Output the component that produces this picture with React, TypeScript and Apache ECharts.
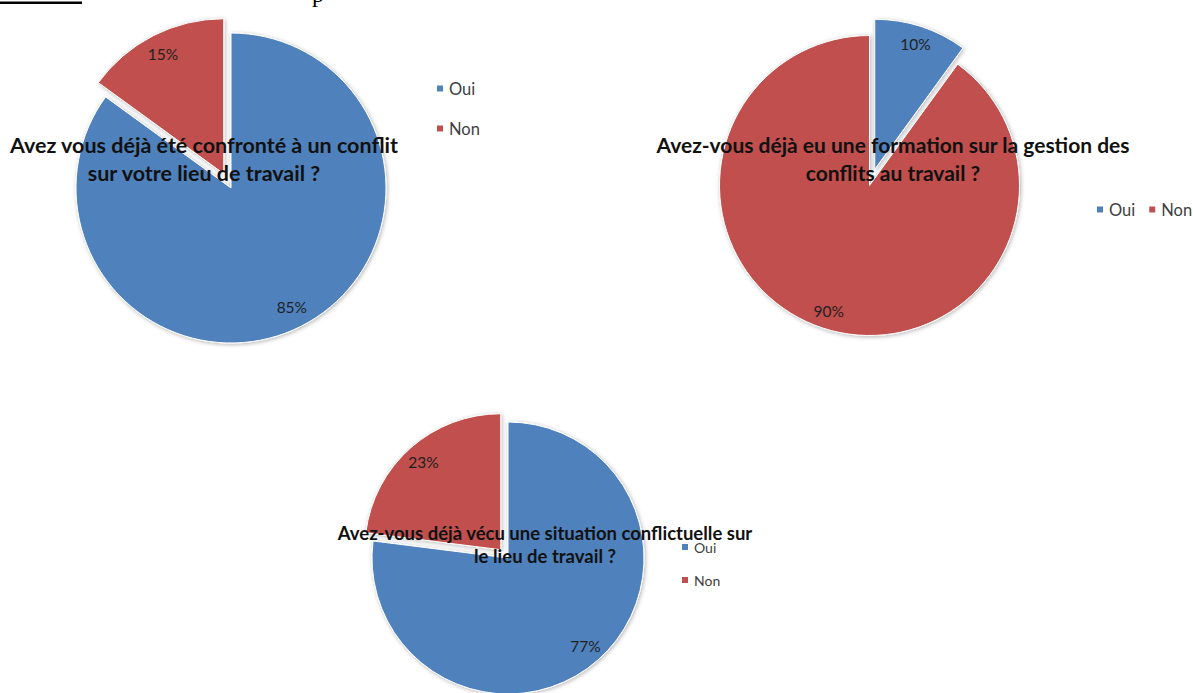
import React, { useEffect, useRef } from 'react';
import * as echarts from 'echarts';

const categories = ['Oui', 'Non'];
const conflitValues = [85, 15];
const formationValues = [10, 90];
const vecuValues = [77, 23];
const sliceColors = ['#4F81BD', '#C0504D'];

const titleConflit = 'Avez vous déjà été confronté à un conflit\nsur votre lieu de travail ?';
const titleFormation = 'Avez-vous déjà eu une formation sur la gestion des\nconflits au travail ?';
const titleVecu = 'Avez-vous déjà vécu une situation conflictuelle sur\nle lieu de travail ?';

const FONT = 'Lato, "Open Sans", sans-serif';

function pieSeries(
  values: number[],
  center: [number, number],
  radius: number,
  labelRadius: number,
  explodedIndex: number,
  offset: number
) {
  const data = categories.map((name, i) => ({
    name,
    value: values[i],
    selected: i === explodedIndex,
    itemStyle: { color: sliceColors[i] },
  }));
  const labelData = categories.map((name, i) => ({
    name,
    value: values[i],
    selected: i === explodedIndex,
    itemStyle: { color: 'rgba(0,0,0,0)', borderWidth: 0 },
  }));
  return [
    {
      type: 'pie',
      center,
      radius,
      startAngle: 90,
      clockwise: true,
      selectedMode: 'single',
      selectedOffset: offset,
      silent: true,
      emphasis: { disabled: true },
      label: { show: false },
      labelLine: { show: false },
      itemStyle: {
        borderColor: '#ffffff',
        borderWidth: 1,
        shadowBlur: 4,
        shadowOffsetX: 1,
        shadowOffsetY: 1,
        shadowColor: 'rgba(0,0,0,0.3)',
      },
      data,
    },
    {
      type: 'pie',
      center,
      radius: labelRadius,
      startAngle: 90,
      clockwise: true,
      selectedMode: 'single',
      selectedOffset: offset,
      silent: true,
      z: 3,
      emphasis: { disabled: true },
      percentPrecision: 0,
      label: {
        show: true,
        position: 'inside',
        formatter: '{d}%',
        color: '#1f1f1f',
        fontSize: 15.5,
        fontFamily: FONT,
      },
      labelLine: { show: false },
      data: labelData,
    },
  ];
}

export default function App() {
  const ref = useRef<HTMLDivElement>(null);

  useEffect(() => {
    if (!ref.current) return;
    const chart = echarts.init(ref.current, undefined, { renderer: 'svg' });
    const legendBase = {
      data: categories,
      icon: 'rect',
      itemWidth: 8,
      itemHeight: 8,
      padding: 0,
      selectedMode: false,
    };
    chart.setOption({
      animation: false,
      backgroundColor: '#ffffff',
      legend: [
        {
          ...legendBase,
          orient: 'vertical',
          left: 435,
          top: 80,
          itemGap: 23,
          textStyle: { fontSize: 16.5, color: '#404040', fontFamily: FONT, lineHeight: 16 },
        },
        {
          ...legendBase,
          orient: 'horizontal',
          left: 1095,
          top: 201,
          itemGap: 12,
          textStyle: { fontSize: 16.5, color: '#404040', fontFamily: FONT, lineHeight: 16 },
        },
        {
          ...legendBase,
          orient: 'vertical',
          left: 680,
          top: 540,
          itemGap: 19,
          textStyle: { fontSize: 14, color: '#404040', fontFamily: FONT, lineHeight: 14 },
        },
      ],
      series: [
        ...pieSeries(conflitValues, [231, 188], 155, 262, 1, 16),
        ...pieSeries(formationValues, [869.5, 185.5], 150, 258, 0, 17),
        ...pieSeries(vecuValues, [508, 558], 136, 228, 1, 11),
      ],
      graphic: [
        {
          type: 'rect',
          z: 100,
          shape: { x: 0, y: 1.5, width: 82, height: 2.5 },
          style: { fill: '#000000' },
        },
        {
          type: 'text',
          z: 100,
          x: 312,
          y: -6,
          style: {
            text: 'p',
            font: '24px "Liberation Serif", serif',
            fill: '#000000',
            align: 'left',
            verticalAlign: 'middle',
          },
        },
        {
          type: 'text',
          z: 100,
          x: 204,
          y: 131,
          style: {
            text: titleConflit,
            font: `bold 21.5px ${FONT}`,
            fill: '#111111',
            align: 'center',
            verticalAlign: 'top',
            lineHeight: 28,
          },
        },
        {
          type: 'text',
          z: 100,
          x: 893,
          y: 130,
          style: {
            text: titleFormation,
            font: `bold 21px ${FONT}`,
            fill: '#111111',
            align: 'center',
            verticalAlign: 'top',
            lineHeight: 28,
          },
        },
        {
          type: 'text',
          z: 100,
          x: 545,
          y: 521.5,
          style: {
            text: titleVecu,
            font: `bold 18.5px ${FONT}`,
            fill: '#111111',
            align: 'center',
            verticalAlign: 'top',
            lineHeight: 23,
          },
        },
      ],
    });
    return () => chart.dispose();
  }, []);

  return (
    <div
      ref={ref}
      style={{ position: 'absolute', left: 0, top: 0, width: 1193, height: 693 }}
    />
  );
}
